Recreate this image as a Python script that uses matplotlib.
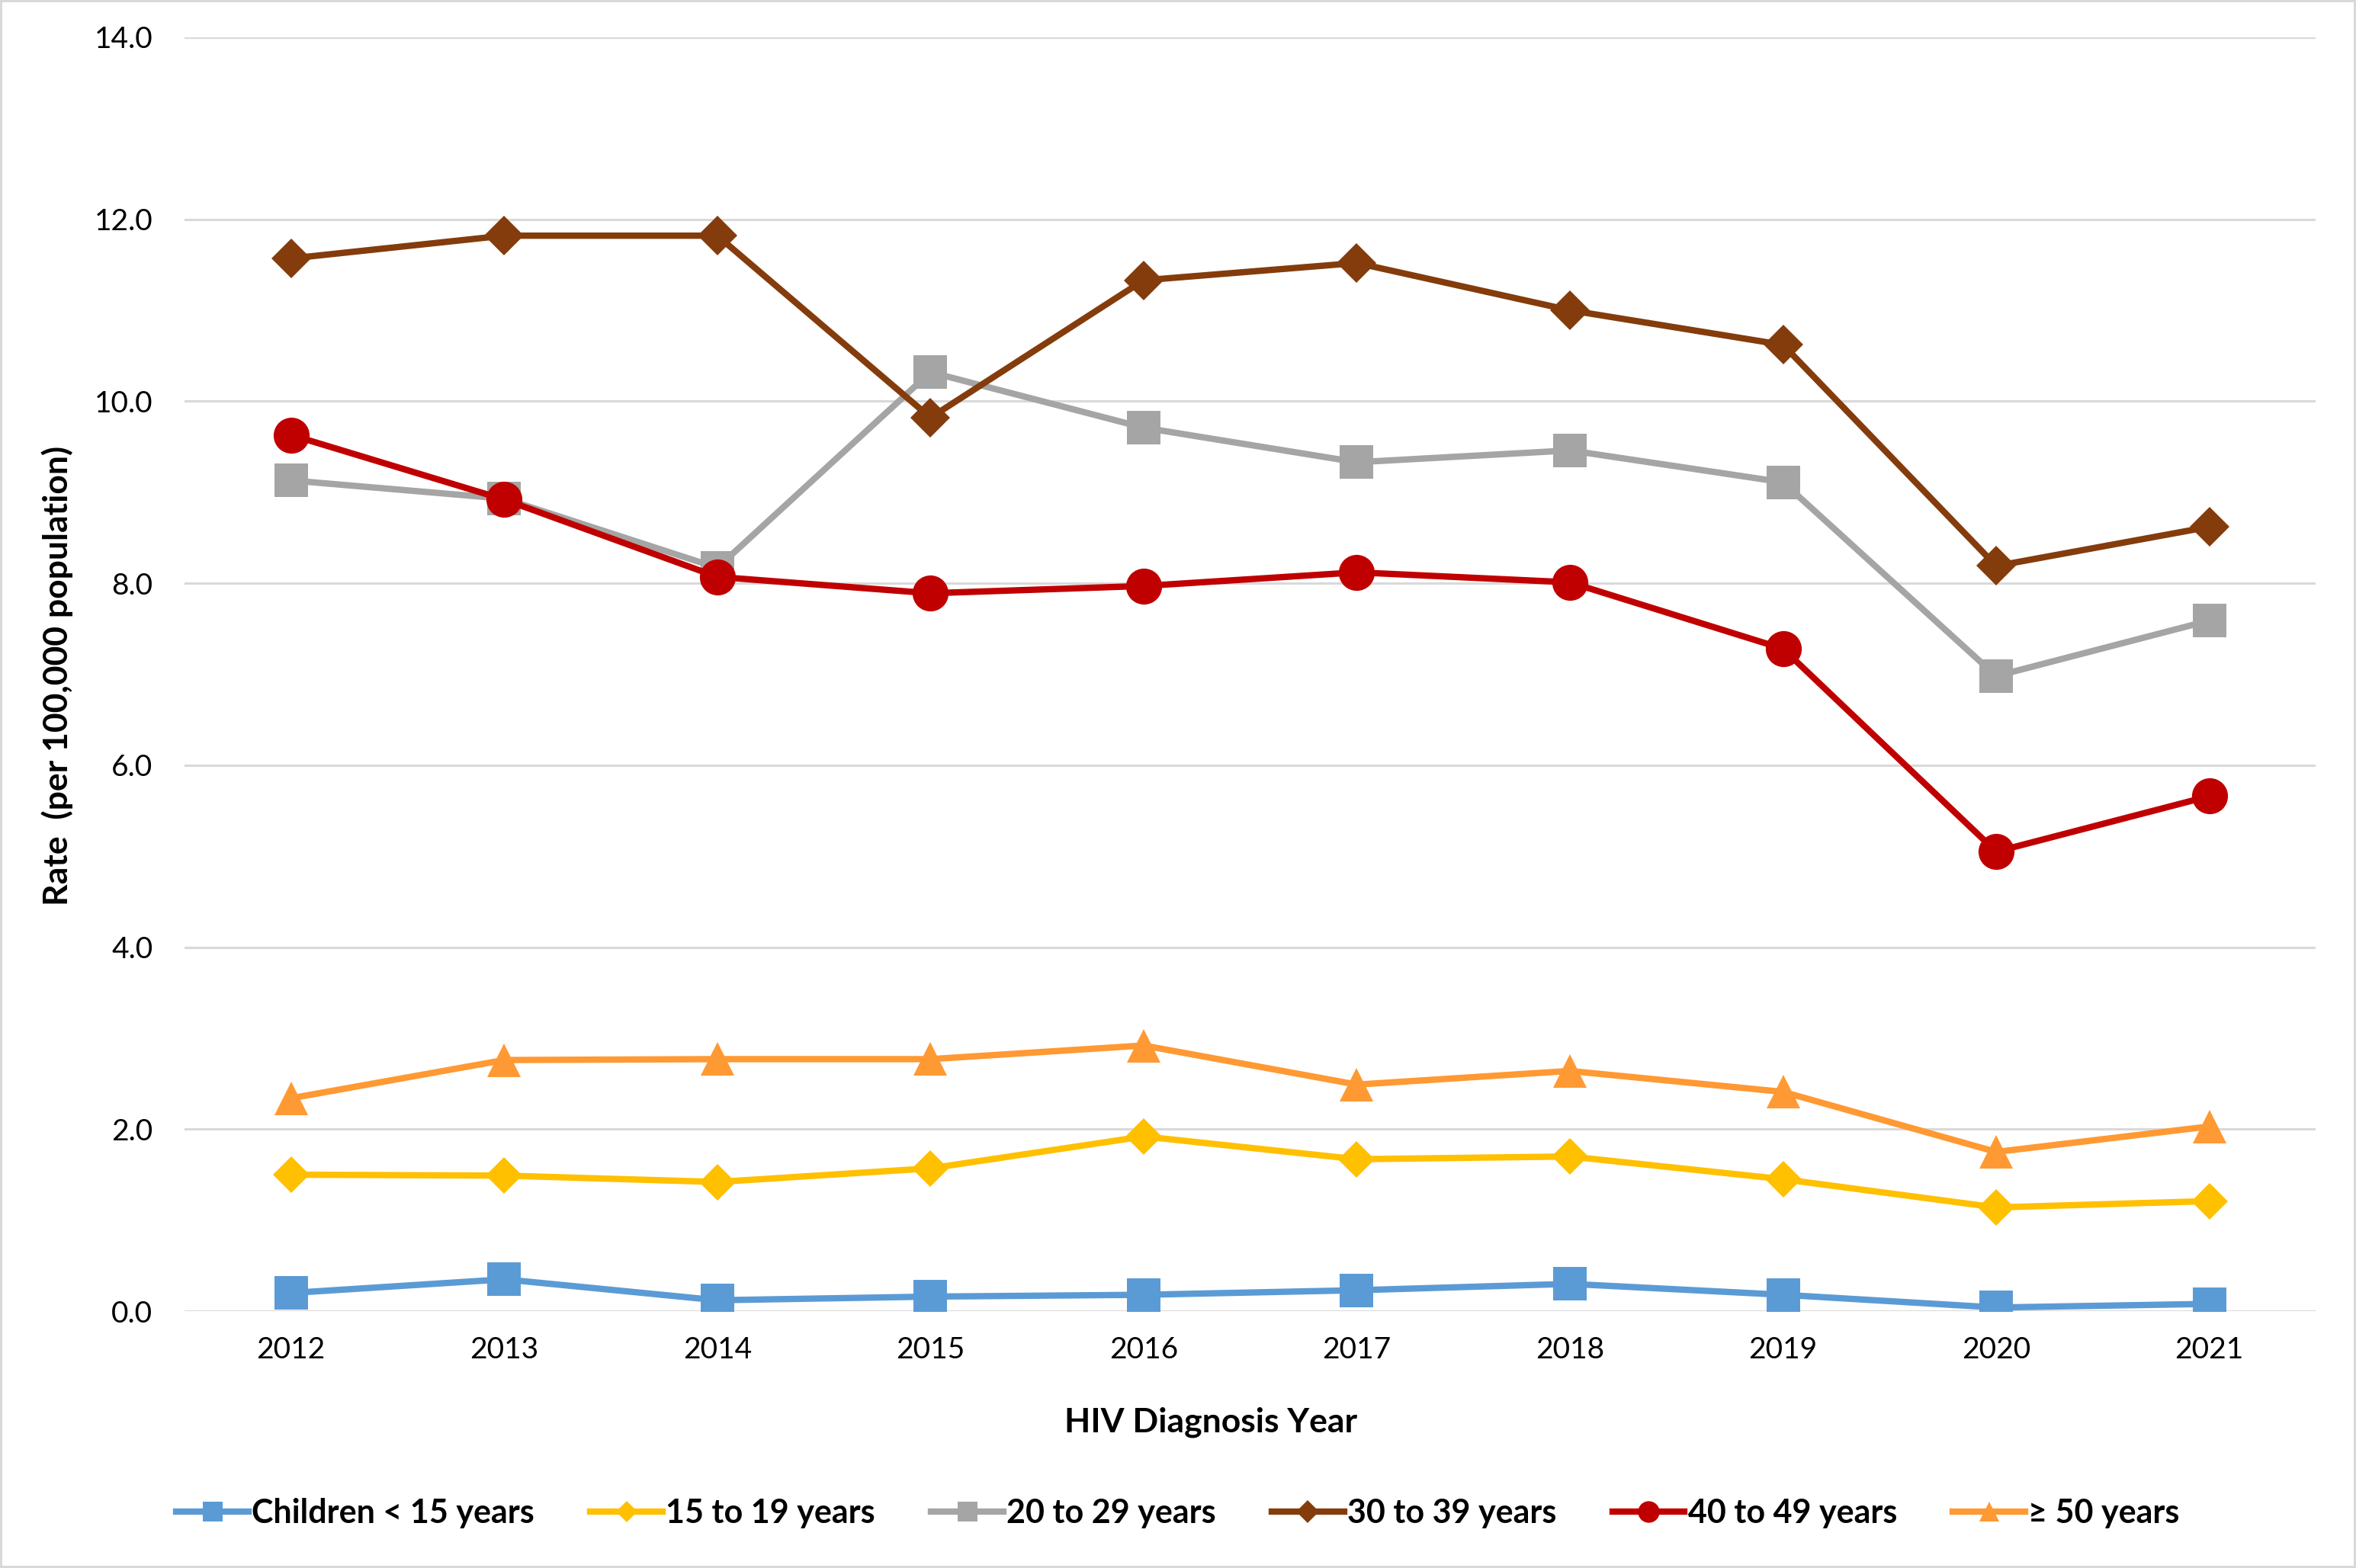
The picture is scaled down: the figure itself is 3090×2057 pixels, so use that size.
import matplotlib
matplotlib.use("Agg")
import matplotlib.pyplot as plt

years = ["2012", "2013", "2014", "2015", "2016", "2017", "2018", "2019", "2020", "2021"]
children_lt15 = [0.20, 0.35, 0.12, 0.16, 0.18, 0.23, 0.30, 0.18, 0.04, 0.08]
age_15_19 = [1.50, 1.49, 1.42, 1.57, 1.92, 1.67, 1.70, 1.45, 1.14, 1.21]
age_20_29 = [9.13, 8.93, 8.17, 10.32, 9.71, 9.33, 9.46, 9.11, 6.98, 7.59]
age_30_39 = [11.57, 11.82, 11.82, 9.82, 11.33, 11.52, 11.00, 10.62, 8.19, 8.62]
age_40_49 = [9.63, 8.92, 8.07, 7.89, 7.97, 8.12, 8.01, 7.28, 5.05, 5.66]
age_50_plus = [2.34, 2.76, 2.77, 2.77, 2.92, 2.49, 2.64, 2.41, 1.75, 2.03]
y_ticks = [0.0, 2.0, 4.0, 6.0, 8.0, 10.0, 12.0, 14.0]

series = [
    ("Children < 15 years", children_lt15, "#5B9BD5", "s", 32),
    ("15 to 19 years", age_15_19, "#FFC000", "D", 24),
    ("20 to 29 years", age_20_29, "#A5A5A5", "s", 32),
    ("30 to 39 years", age_30_39, "#843C0C", "D", 26),
    ("40 to 49 years", age_40_49, "#C00000", "o", 34),
    ("\u2265 50 years", age_50_plus, "#FF9933", "^", 32),
]

plt.rcParams["font.family"] = ["Lato", "DejaVu Sans"]

fig = plt.figure(figsize=(30.9, 20.57), dpi=100)
fig.patch.set_edgecolor("#D9D9D9")
fig.patch.set_linewidth(3)
ax = fig.add_axes([0.0783, 0.1638, 0.9047, 0.8124])

x = list(range(len(years)))
handles = []
for label, vals, color, marker, ms in series:
    h, = ax.plot(x, vals, color=color, lw=6, marker=marker, markersize=ms,
                 markeredgewidth=0, label=label, zorder=3)
    handles.append(h)

ax.set_xlim(-0.5, len(years) - 0.5)
ax.set_ylim(0, 14)
ax.set_yticks(y_ticks)
ax.set_yticklabels([f"{v:.1f}" for v in y_ticks])
ax.set_xticks(x)
ax.set_xticklabels(years)
ax.tick_params(axis="y", length=0, pad=30, labelsize=28)
ax.tick_params(axis="x", length=0, pad=24, labelsize=28)
ax.grid(axis="y", color="#D9D9D9", lw=2.2, zorder=0)
ax.set_axisbelow(True)
for s in ax.spines.values():
    s.set_visible(False)

fig.text(0.514, 0.093, "HIV Diagnosis Year", ha="center", va="center",
         fontsize=32, fontweight="bold")
fig.text(0.0243, 0.569, "Rate  (per 100,000 population)", ha="center", va="center",
         rotation=90, fontsize=32, fontweight="bold")

leg = fig.legend(handles=handles, loc="center", bbox_to_anchor=(0.5, 0.035), ncol=6,
                 frameon=False, fontsize=31, handlelength=2.2, columnspacing=1.7,
                 handletextpad=0.1, markerscale=0.6)
for t in leg.get_texts():
    t.set_fontweight("bold")

fig.savefig("out.png", dpi=100)
